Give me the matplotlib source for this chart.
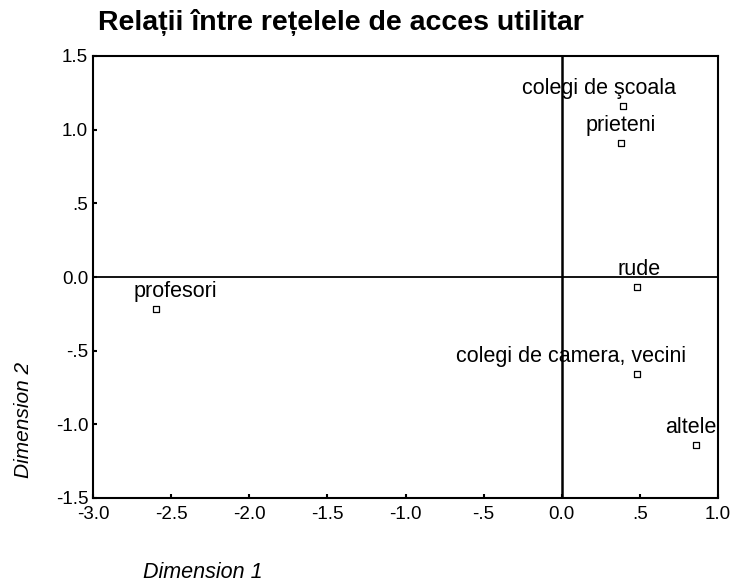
import matplotlib.pyplot as plt

plt.rcParams['font.family'] = ['Liberation Sans', 'DejaVu Sans']

labels = ['colegi de şcoala', 'prieteni', 'rude', 'colegi de camera, vecini', 'altele', 'profesori']
dim1 = [0.39, 0.38, 0.48, 0.48, 0.86, -2.60]
dim2 = [1.16, 0.91, -0.07, -0.66, -1.14, -0.22]

xticks = [-3.0, -2.5, -2.0, -1.5, -1.0, -0.5, 0.0, 0.5, 1.0]
xticklabels = ['-3.0', '-2.5', '-2.0', '-1.5', '-1.0', '-.5', '0.0', '.5', '1.0']
yticks = [1.5, 1.0, 0.5, 0.0, -0.5, -1.0, -1.5]
yticklabels = ['1.5', '1.0', '.5', '0.0', '-.5', '-1.0', '-1.5']

fig = plt.figure(figsize=(7.3, 5.87), dpi=100)
ax = fig.add_axes([93 / 730, 1 - 498 / 587, 625 / 730, 442 / 587])

ax.axhline(0, color='black', lw=1.3, zorder=1)
ax.axvline(0, color='black', lw=1.8, zorder=1)
ax.scatter(dim1, dim2, marker='s', s=18, facecolors='white', edgecolors='black', linewidths=0.9, zorder=3)

# etichete deasupra punctelor (deplasare in puncte)
offsets = {'colegi de şcoala': (-17, 'center'), 'prieteni': (0, 'center'),
           'rude': (2, 'center'), 'colegi de camera, vecini': (-47, 'center'),
           'altele': (15, 'right'), 'profesori': (14, 'center')}
for x, y, t in zip(dim1, dim2, labels):
    dx, ha = offsets[t]
    ax.annotate(t, (x, y), xytext=(dx, 5), textcoords='offset points',
                ha=ha, va='bottom', fontsize=15.5, zorder=4)

ax.set_xlim(-3.0, 1.0)
ax.set_ylim(-1.5, 1.5)
ax.set_xticks(xticks)
ax.set_xticklabels(xticklabels)
ax.set_yticks(yticks)
ax.set_yticklabels(yticklabels)
ax.tick_params(direction='in', length=3, width=1.5, labelsize=13.5)
ax.tick_params(axis='x', pad=6)
for s in ax.spines.values():
    s.set_linewidth(1.5)

fig.text(98 / 730, 1 - 22 / 587, 'Relații între rețelele de acces utilitar',
         fontsize=20.5, fontweight='bold', va='center', ha='left')
fig.text(24 / 730, 1 - 420 / 587, 'Dimension 2', rotation=90, fontsize=15,
         style='italic', va='center', ha='center')
fig.text(143 / 730, 1 - 572 / 587, 'Dimension 1', fontsize=15.5,
         style='italic', va='center', ha='left')

fig.savefig('out.png', dpi=100)
